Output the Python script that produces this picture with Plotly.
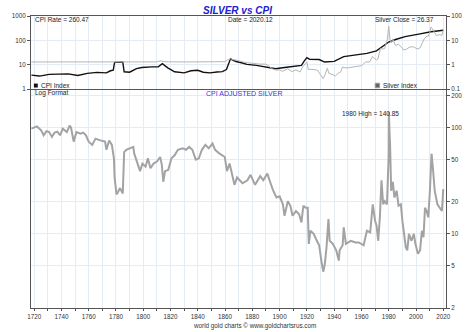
import math
import plotly.graph_objects as go

# ---------------- data ----------------
cpi_years = [1718, 1724, 1731, 1738, 1745, 1752, 1759, 1766, 1773, 1776, 1778, 1779, 1782, 1785,
             1786, 1790, 1795, 1799, 1806, 1811, 1814, 1818, 1823, 1830, 1835, 1840, 1844, 1849,
             1854, 1858, 1861, 1864, 1866, 1868, 1872, 1876, 1883, 1890, 1897, 1905, 1912, 1916,
             1918, 1920, 1922, 1929, 1933, 1940, 1947, 1954, 1964, 1971, 1976, 1980, 1985, 1992,
             2002, 2011, 2020]
cpi_values = [3.7, 3.4, 4.0, 4.1, 4.2, 3.6, 4.4, 4.8, 4.6, 5.6, 5.9, 12.4, 12.8, 12.8,
              5.1, 4.9, 6.9, 7.6, 8.1, 8.1, 11.0, 7.4, 5.1, 4.6, 5.6, 5.9, 4.9, 4.6,
              5.0, 5.2, 6.3, 17.4, 14.9, 13.5, 12.0, 10.3, 9.4, 8.1, 6.8, 7.8, 8.6, 9.4,
              14.0, 19.5, 16.5, 16.3, 12.8, 13.6, 21.5, 25.0, 29.0, 37.0, 57.0, 85.0, 108.0, 142.0,
              180.0, 225.0, 260.47]

silver_years = [1718, 1740, 1760, 1778, 1790, 1800, 1810, 1813, 1815, 1830, 1850, 1860, 1862, 1864,
                1866, 1868, 1872, 1876, 1880, 1885, 1890, 1893, 1895, 1898, 1900, 1902, 1904, 1906,
                1909, 1912, 1915, 1917, 1919, 1920, 1921, 1923, 1926, 1928, 1930, 1932, 1933, 1934,
                1935, 1936, 1939, 1941, 1943, 1945, 1946, 1948, 1950, 1955, 1960, 1963, 1966, 1968,
                1970, 1971, 1972, 1974, 1975, 1977, 1979, 1980, 1980.5, 1981, 1982, 1983, 1985, 1987,
                1989, 1991, 1993, 1995, 1998, 2001, 2003, 2004, 2006, 2008, 2009, 2010, 2011, 2012,
                2013, 2015, 2017, 2019, 2020]
silver_values = [1.29, 1.29, 1.29, 1.29, 1.29, 1.29, 1.30, 1.45, 1.32, 1.29, 1.33, 1.33, 1.55, 1.75,
                 1.6, 1.55, 1.35, 1.2, 1.15, 1.06, 1.05, 0.78, 0.66, 0.59, 0.62, 0.53, 0.58, 0.68,
                 0.52, 0.61, 0.50, 0.82, 1.12, 1.3, 0.63, 0.65, 0.62, 0.58, 0.38, 0.27, 0.35, 0.48,
                 0.72, 0.45, 0.39, 0.35, 0.44, 0.52, 0.8, 0.74, 0.74, 0.85, 0.91, 1.28, 1.29, 2.15,
                 1.77, 1.55, 1.68, 4.7, 4.4, 4.6, 11.0, 38.0, 20.0, 10.0, 8.0, 11.5, 6.1, 7.0,
                 5.5, 4.0, 4.3, 5.2, 5.5, 4.4, 4.9, 6.7, 11.5, 15.0, 14.7, 20.0, 35.0, 30.0,
                 23.0, 15.7, 17.0, 16.2, 26.37]

adj_years = [1718, 1720, 1722, 1725, 1727, 1729, 1731, 1733, 1735, 1737, 1739, 1741, 1744, 1746,
             1747, 1749, 1751, 1754, 1756, 1758, 1760, 1762.6, 1765, 1768.5, 1772, 1773, 1775, 1777,
             1778.5, 1779, 1780.4, 1781.6, 1783, 1785, 1786, 1787.5, 1789, 1791, 1792.7, 1793.4,
             1795.8, 1797.7, 1799.4, 1801.7, 1803.4, 1805.3, 1807.6, 1810, 1812.4, 1813.6, 1814.7,
             1816, 1818.3, 1820.7, 1823, 1825.4, 1829, 1831.4, 1833.7, 1836, 1838.5, 1840.8, 1843,
             1845.6, 1848, 1850.8, 1852.7, 1856, 1859.8, 1861.4, 1863.3, 1865, 1866.9, 1868.8,
             1870.5, 1872.8, 1876.4, 1878.7, 1882, 1885.8, 1888, 1891, 1893, 1895.3, 1897.7, 1900,
             1902.4, 1903.6, 1906, 1907.9, 1909.5, 1912, 1914.3, 1916, 1917.4, 1919, 1920.6, 1921.4,
             1922.6, 1925, 1927.3, 1929, 1930.9, 1932, 1933.2, 1934.4, 1935.8, 1936.7, 1939, 1941.5,
             1943.4, 1944, 1946.2, 1947, 1948.6, 1952.2, 1955.7, 1958, 1961.6, 1964, 1966.4, 1968.3,
             1970, 1971.1, 1972.3, 1973.5, 1974.7, 1975.9, 1977, 1978.7, 1979.9, 1980.1, 1980.6,
             1981, 1981.8, 1983, 1984.2, 1985.8, 1987.2, 1988.9, 1990, 1991.3, 1992.5, 1993.6,
             1994.8, 1996.7, 1998.4, 1999.6, 2001.4, 2003, 2004.3, 2005.5, 2006.6, 2007.8, 2009,
             2010.2, 2011.4, 2012.6, 2013.7, 2015.7, 2017.3, 2019, 2020]
adj_values = [98, 100, 103, 95, 85, 93, 91, 82, 90, 92, 85, 98, 91, 105,
              101, 74, 91, 88, 90, 85, 74, 69, 79, 76, 74, 62, 76, 69,
              51.5, 34, 23.5, 25, 27, 24, 59, 62, 63, 64, 66, 57,
              46, 39, 46, 43, 51.5, 41.5, 46, 48, 53, 45, 31,
              39, 40, 51.5, 55, 62, 64, 62, 66, 62, 50, 51.5, 62,
              69, 64, 71, 62, 57, 53, 39, 46, 37, 29, 34,
              32, 30, 32, 36, 29, 35, 32, 37, 31, 25.5, 22, 22.6,
              19, 14.8, 20.3, 18.4, 14.8, 16.4, 15.3, 12.8, 18.4, 17.6, 17.6, 8.05,
              10.7, 10, 8.6, 7.8, 5.25, 4.4, 5.25, 7.5, 13.8, 8.6, 8.05, 7,
              5.6, 7, 7.8, 11.5, 8.05, 8.6, 8.3, 8.3, 7.8, 10.7, 10.3, 19,
              13.3, 11.9, 8.6, 14.3, 32, 19, 20.3, 19, 51.5, 140.85, 90,
              69, 25.5, 31, 22, 25.5, 18.4, 19, 13.3, 9.3, 7.5, 7,
              10, 8.6, 10, 8.05, 6.5, 7, 10.7, 9.3, 17.6, 16.4, 14.3,
              25.5, 57, 39, 25.5, 19, 17.6, 16.4, 26.37]

x_tick_years = list(range(1720, 2021, 10))
x_tick_text = [str(y) if (y - 1720) % 20 == 0 else "" for y in x_tick_years]
bottom_ticks = [2, 5, 10, 20, 50, 100, 200]
top_left_ticks = [1, 10, 100, 1000]
top_right_ticks = [0.1, 1, 10, 100]

# ---------------- figure ----------------
FONT = "Liberation Sans, Arial, sans-serif"
AX = "#555555"
GRID = "#e6ecf3"
TICKF = dict(family=FONT, size=6.3, color="#333333")

fig = go.Figure()
fig.add_trace(go.Scatter(x=adj_years, y=adj_values, mode="lines",
                         line=dict(color="#a3a3a3", width=2), xaxis="x", yaxis="y",
                         hoverinfo="skip"))
fig.add_trace(go.Scatter(x=silver_years, y=silver_values, mode="lines",
                         line=dict(color="#b5b5b5", width=1), xaxis="x2", yaxis="y3",
                         hoverinfo="skip"))
fig.add_trace(go.Scatter(x=cpi_years, y=cpi_values, mode="lines",
                         line=dict(color="#111111", width=1.4), xaxis="x2", yaxis="y2",
                         hoverinfo="skip"))

W, H = 474, 332
L, R, T, B = 22, 24, 12, 24
split = 222 / 296.0

def px(x):
    return (x - L) / (W - L - R)

def py(y):
    return (H - B - y) / (H - T - B)

fig.update_layout(
    width=W, height=H, margin=dict(l=L, r=R, t=T, b=B),
    paper_bgcolor="white", plot_bgcolor="white", showlegend=False,
    xaxis=dict(domain=[0, 1], anchor="y", range=[1717.7, 2022],
               tickvals=x_tick_years, ticktext=x_tick_text, ticks="outside", ticklen=2,
               tickcolor=AX, showline=True, linecolor=AX, linewidth=1, showgrid=True,
               gridcolor=GRID, gridwidth=1, tickfont=TICKF, zeroline=False),
    yaxis=dict(domain=[0, split], anchor="x", type="log", side="right",
               range=[math.log10(2), math.log10(232)], tickvals=bottom_ticks,
               ticktext=[str(v) for v in bottom_ticks], ticks="outside", ticklen=3,
               tickcolor=AX, showline=True, mirror=True, linecolor=AX, linewidth=1,
               showgrid=True, gridcolor=GRID, tickfont=TICKF, zeroline=False),
    xaxis2=dict(domain=[0, 1], anchor="y2", matches="x", range=[1717.7, 2022],
                tickvals=x_tick_years, showticklabels=False, ticks="",
                showline=True, mirror=True, linecolor=AX, linewidth=1, showgrid=True,
                gridcolor=GRID, zeroline=False),
    yaxis2=dict(domain=[split, 1], anchor="x2", type="log", side="left", range=[0, 3],
                tickvals=top_left_ticks, ticktext=[str(v) for v in top_left_ticks],
                ticks="outside", ticklen=3, tickcolor=AX, showline=True, linecolor=AX,
                linewidth=1, showgrid=True, gridcolor=GRID, tickfont=TICKF, zeroline=False),
    yaxis3=dict(overlaying="y2", anchor="x2", type="log", side="right", range=[-1, 2],
                tickvals=top_right_ticks, ticktext=["0.1", "1", "10", "100"],
                ticks="outside", ticklen=3, tickcolor=AX, showline=True, linecolor=AX,
                linewidth=1, showgrid=False, tickfont=TICKF, zeroline=False),
)

def txt(text, x, y, size=6.5, color="#222222", anchor="left", **kw):
    fig.add_annotation(text=text, x=px(x), y=py(y), xref="paper", yref="paper",
                       xanchor=anchor, yanchor="middle", showarrow=False,
                       font=dict(family=FONT, size=size, color=color), **kw)

txt("<b><i>SILVER vs CPI</i></b>", 235, 6, size=10, color="#2020d0", anchor="center")
txt("CPI Rate = 260.47", 24, 15.5)
txt("Date = 2020.12", 248, 15.5, anchor="center")
txt("Silver Close = 26.37", 375, 15.5)
txt("CPI Index", 30.5, 82.5)
txt("Silver Index", 382.5, 82.5)
txt("Log Format", 24, 90.5)
txt("CPI ADJUSTED SILVER", 242, 90.5, size=7, color="#3535d8", anchor="center")
txt("1980 High = 140.85", 372, 111, anchor="center")
txt("world gold charts \u00a9 www.goldchartsrus.com", 252, 326.5, size=6.3,
    color="#333333", anchor="center")

# legend squares
fig.add_shape(type="rect", xref="paper", yref="paper", x0=px(25), x1=px(29),
              y0=py(84.5), y1=py(80.5), fillcolor="#111111", line=dict(width=0))
fig.add_shape(type="rect", xref="paper", yref="paper", x0=px(377), x1=px(381.5),
              y0=py(84.7), y1=py(80.2), fillcolor="#666666", line=dict(color="#999999", width=1))

fig.write_html("out.html")
